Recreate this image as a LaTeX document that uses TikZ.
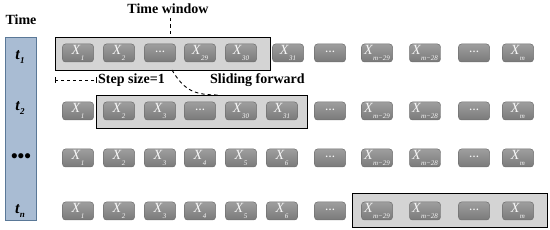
\documentclass[tikz,border=0pt]{standalone}
\usepackage{fontspec}
\setmainfont{Liberation Serif}
\usetikzlibrary{calc}
\definecolor{barfill}{HTML}{A9BCD3}
\definecolor{barline}{HTML}{5A7897}
\definecolor{winfill}{HTML}{D4D4D4}
\definecolor{celltop}{HTML}{9E9E9E}
\definecolor{cellbot}{HTML}{7A7A7A}
\definecolor{cellline}{HTML}{707070}
\newcommand\xsub[1]{\textit{X}\raisebox{-0.4em}{\fontsize{7}{7}\selectfont\itshape #1}}
\newcommand\tsub[1]{\textbf{\textit{t}}\raisebox{-0.3em}{\fontsize{9}{9}\selectfont\bfseries\itshape #1}}
\newcommand\celldots{\raisebox{0.15em}{\fontsize{10}{10}\selectfont\bfseries …}}
\tikzset{
  cell/.style={draw=cellline, line width=0.5pt, rounded corners=3pt, top color=celltop, bottom color=cellbot,
    minimum width=31pt, minimum height=18pt, inner sep=0pt, text=white!94!gray,
    font=\fontsize{14}{14}\selectfont},
  win/.style={draw=black, line width=1.3pt, fill=winfill, inner sep=0pt, anchor=north west},
  lbl/.style={font=\fontsize{14}{14}\selectfont\bfseries, inner sep=0pt},
  tl/.style={font=\fontsize{16}{16}\selectfont, inner sep=0pt},
  dline/.style={dash pattern=on 3.5pt off 3pt, line width=0.9pt}
}
\begin{document}
\begin{tikzpicture}[x=1pt,y=-1pt]
\useasboundingbox (0,0) rectangle (550,230);
% time bar
\node[draw=barline, line width=0.8pt, fill=barfill, minimum width=31pt, minimum height=183pt, inner sep=0pt, anchor=north west] (bar) at (5,37) {};
\node[lbl] (time) at (21,20) {Time};
\node[tl] (t1) at (20,57) {\tsub{1}};
\node[tl] (t2) at (20,108) {\tsub{2}};
\node[inner sep=0pt, font=\fontsize{19}{19}\selectfont\bfseries] (tdots) at (21,158) {•••};
\node[tl] (tn) at (20,211) {\tsub{n}};
% windows
\node[win, minimum width=215pt, minimum height=33pt] (w1) at (55,37) {};
\node[win, minimum width=211pt, minimum height=33pt] (w2) at (96,95) {};
\node[win, minimum width=195pt, minimum height=34pt] (w4) at (352,193) {};
% row 1
\foreach \x/\t [count=\i] in {78/\xsub{1},119/\xsub{2},160/\celldots,200/\xsub{29},241/\xsub{30},288/\xsub{31},330/\celldots,377/\xsub{m−29},425/\xsub{m−28},474/\celldots,518/\xsub{m}}
  \node[cell] (a\i) at (\x,53) {\t};
% row 2
\foreach \x/\t [count=\i] in {78/\xsub{1},119/\xsub{2},160/\xsub{3},200/\celldots,241/\xsub{30},282/\xsub{31},330/\celldots,377/\xsub{m−29},425/\xsub{m−28},474/\celldots,518/\xsub{m}}
  \node[cell] (b\i) at (\x,111) {\t};
% row 3
\foreach \x/\t [count=\i] in {78/\xsub{1},119/\xsub{2},160/\xsub{3},200/\xsub{4},241/\xsub{5},282/\xsub{6},330/\celldots,377/\xsub{m−29},425/\xsub{m−28},474/\celldots,518/\xsub{m}}
  \node[cell] (c\i) at (\x,158) {\t};
% row 4
\foreach \x/\t [count=\i] in {78/\xsub{1},119/\xsub{2},160/\xsub{3},200/\xsub{4},241/\xsub{5},282/\xsub{6},330/\celldots,377/\xsub{m−29},425/\xsub{m−28},474/\celldots,518/\xsub{m}}
  \node[cell] (d\i) at (\x,211) {\t};
% annotations
\node[lbl] (tw) at (168,9) {Time window};
\coordinate (twa) at (170,18);
\coordinate (twb) at (170,37);
\draw[dline] (twa) -- (twb);
\coordinate (s1) at (55,80);
\coordinate (s2) at (96,80);
\draw[dashed, line width=0.7pt] (s1) -- (s2);
\draw[line width=0.7pt] ($(s1)+(0,-3)$) -- ($(s1)+(0,3)$);
\draw[line width=0.7pt] ($(s2)+(0,-3)$) -- ($(s2)+(0,3)$);
\node[lbl, anchor=west] (step) at (98,80) {Step size=1};
\node[lbl, anchor=west] (slide) at (210,80) {Sliding forward};
\coordinate (c0) at (172,70);
\coordinate (c1) at (220,95);
\draw[dline] (c0) .. controls (185,92) and (196,95) .. (c1);
\end{tikzpicture}
\end{document}
